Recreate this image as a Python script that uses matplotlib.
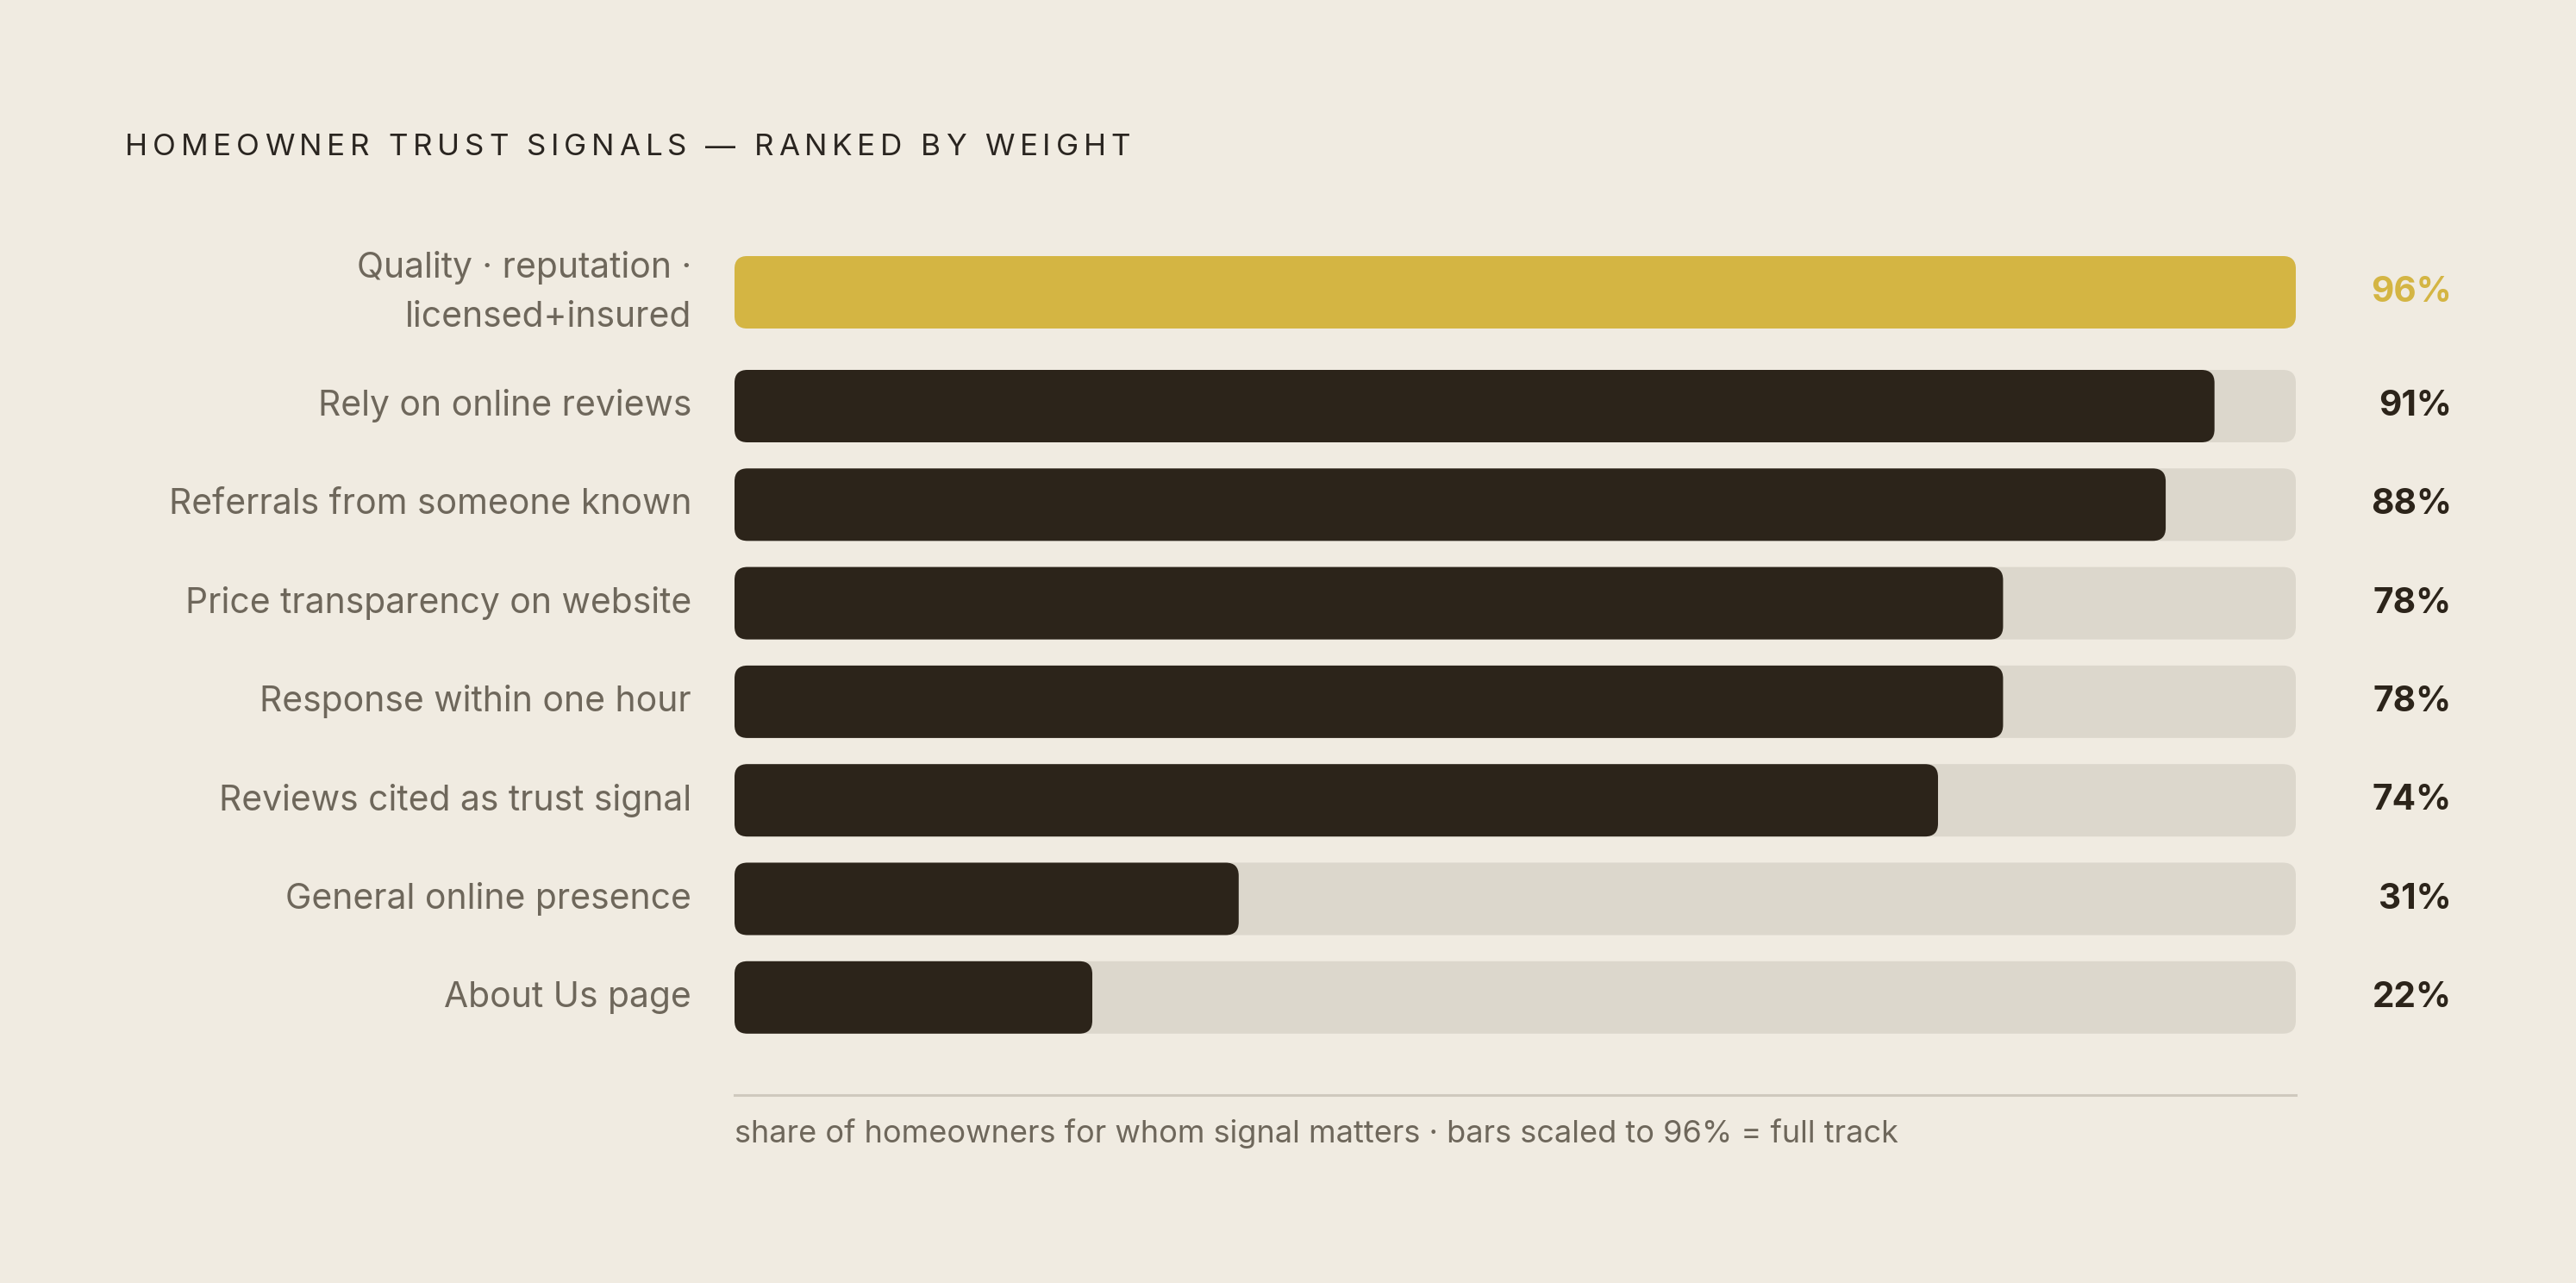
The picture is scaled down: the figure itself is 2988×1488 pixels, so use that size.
import matplotlib
matplotlib.use("Agg")
import matplotlib.pyplot as plt
from matplotlib.patches import FancyBboxPatch

# ---- data ----
categories = [
    "Quality · reputation ·\nlicensed+insured",
    "Rely on online reviews",
    "Referrals from someone known",
    "Price transparency on website",
    "Response within one hour",
    "Reviews cited as trust signal",
    "General online presence",
    "About Us page",
]
values = [96, 91, 88, 78, 78, 74, 31, 22]
value_labels = ["96%", "91%", "88%", "78%", "78%", "74%", "31%", "22%"]
scale_max = 96
title = "HOMEOWNER TRUST SIGNALS — RANKED BY WEIGHT"
footnote = "share of homeowners for whom signal matters · bars scaled to 96% = full track"

# ---- style ----
BG = "#F0EBE1"
TRACK = "#DCD7CC"
DARK = "#2C241A"
GOLD = "#D4B543"
LABEL = "#6E675B"
RULE = "#CFC9BE"
FONT = ["Inter", "DejaVu Sans"]
plt.rcParams["font.family"] = FONT

W, H = 2988, 1488
DPI = 200
fig = plt.figure(figsize=(W / DPI, H / DPI), dpi=DPI)
fig.patch.set_facecolor(BG)

track_l, track_r = 852, 2663
ax_top, ax_bot = 297, 1270
ax = fig.add_axes([track_l / W, 1 - ax_bot / H, (track_r - track_l) / W, (ax_bot - ax_top) / H])
ax.set_facecolor("none")

row_px = 114.3
first_gap = 132 / row_px
ypos = [0] + [first_gap + i for i in range(len(values) - 1)]
bar_h = 84 / row_px
y_top = -bar_h / 2
y_bot = y_top + (ax_bot - ax_top) / row_px
ax.set_xlim(0, scale_max)
ax.set_ylim(y_bot, y_top)

xpp = scale_max / (track_r - track_l)
ypp = 1 / row_px
radius = 15 * xpp
aspect = ypp / xpp
style = f"round,pad=0,rounding_size={radius}"

for i, (y, v) in enumerate(zip(ypos, values)):
    ax.add_patch(FancyBboxPatch((0, y - bar_h / 2), scale_max, bar_h, boxstyle=style,
                                mutation_aspect=aspect, fc=TRACK, ec="none"))
    ax.add_patch(FancyBboxPatch((0, y - bar_h / 2), v, bar_h, boxstyle=style,
                                mutation_aspect=aspect, fc=GOLD if i == 0 else DARK, ec="none"))
    ax.text(-50 * xpp, y, categories[i], ha="right", va="center", fontsize=14.7,
            color=LABEL, linespacing=1.62)
    ax.text(scale_max + (2844 - track_r) * xpp, y, value_labels[i], ha="right",
            va="center", fontsize=14.6, fontweight="bold",
            color=GOLD if i == 0 else DARK)

for s in ["top", "left", "right"]:
    ax.spines[s].set_visible(False)
ax.spines["bottom"].set_color(RULE)
ax.spines["bottom"].set_linewidth(1.1)
ax.set_xticks([])
ax.set_yticks([])

ax.text(0, -45 / (ax_bot - ax_top), footnote, transform=ax.transAxes, ha="left",
        va="center", fontsize=13.0, color=LABEL)

# letter-spaced title
fig.canvas.draw()
r = fig.canvas.get_renderer()
tkw = dict(fontsize=12.6, color="#2A2520")
def w_of(s):
    t = fig.text(0, 0, s, **tkw)
    w = t.get_window_extent(r).width
    t.remove()
    return w
space_w = w_of("x x") - w_of("xx")
widths = [space_w if ch == " " else w_of(ch) for ch in title]
target_w = 1311 - 145
gap = (target_w - sum(widths)) / (len(title) - 1)
x = 145
for ch, w in zip(title, widths):
    if ch != " ":
        fig.text(x / W, 1 - 168 / H, ch, ha="left", va="center_baseline", **tkw)
    x += w + gap

fig.savefig("out.png", dpi=DPI, facecolor=BG)
